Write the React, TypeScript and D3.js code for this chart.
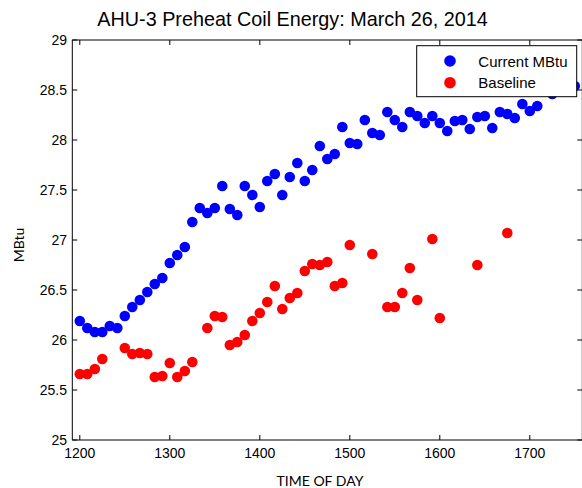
import React from 'react';
import * as d3 from 'd3';

// time of day as decimal hours x 100 (5-minute readings)
const times = [
  1200, 1208.3, 1216.7, 1225, 1233.3, 1241.7, 1250, 1258.3, 1266.7, 1275, 1283.3, 1291.7,
  1300, 1308.3, 1316.7, 1325, 1333.3, 1341.7, 1350, 1358.3, 1366.7, 1375, 1383.3, 1391.7,
  1400, 1408.3, 1416.7, 1425, 1433.3, 1441.7, 1450, 1458.3, 1466.7, 1475, 1483.3, 1491.7,
  1500, 1508.3, 1516.7, 1525, 1533.3, 1541.7, 1550, 1558.3, 1566.7, 1575, 1583.3, 1591.7,
  1600, 1608.3, 1616.7, 1625, 1633.3, 1641.7, 1650, 1658.3, 1666.7, 1675, 1683.3, 1691.7,
  1700, 1708.3, 1716.7, 1725, 1733.3, 1741.7, 1750,
];

const currentMBtu = [
  26.19, 26.12, 26.08, 26.08, 26.14, 26.12, 26.24, 26.33, 26.40, 26.48, 26.56, 26.62,
  26.77, 26.85, 26.93, 27.18, 27.32, 27.27, 27.32, 27.54, 27.31, 27.25, 27.54, 27.45,
  27.33, 27.59, 27.66, 27.45, 27.63, 27.77, 27.59, 27.70, 27.94, 27.81, 27.86, 28.13,
  27.97, 27.96, 28.20, 28.07, 28.05, 28.28, 28.20, 28.13, 28.28, 28.24, 28.17, 28.24,
  28.17, 28.09, 28.19, 28.20, 28.11, 28.23, 28.24, 28.12, 28.28, 28.26, 28.22, 28.36,
  28.29, 28.34, 28.52, 28.46, 28.55, 28.56, 28.54,
];

const baseline: (number | null)[] = [
  25.66, 25.66, 25.71, 25.81, null, null, 25.92, 25.86, 25.87, 25.86, 25.63, 25.64,
  25.77, 25.63, 25.69, 25.78, null, 26.12, 26.24, 26.23, 25.95, 25.98, 26.05, 26.19,
  26.27, 26.38, 26.54, 26.31, 26.42, 26.47, 26.69, 26.76, 26.75, 26.78, 26.54, 26.57,
  26.95, null, null, 26.86, null, 26.33, 26.33, 26.47, 26.72, 26.40, null, 27.01,
  26.22, null, null, null, null, 26.75, null, null, null, 27.07,
];

const xTicks = [1200, 1300, 1400, 1500, 1600, 1700];
const yTicks = [25, 25.5, 26, 26.5, 27, 27.5, 28, 28.5, 29];
const seriesNames = ['Current MBtu', 'Baseline'];
const seriesColors = ['#0000ff', '#ff0000'];

const W = 582;
const H = 488;
const left = 72.3;
const right = 582.3;
const top = 40;
const bottom = 440;
const tickFont = '"Liberation Sans", Arial, sans-serif';
const labelFont = 'Lato, "Open Sans", sans-serif';

export default function App() {
  const x = d3.scaleLinear().domain([1191.67, 1758.33]).range([left, right]);
  const y = d3.scaleLinear().domain([25, 29]).range([bottom, top]);

  const blue = times.map((t, i) => ({ t, v: currentMBtu[i] }));
  const red = baseline
    .map((v, i) => ({ t: times[i], v }))
    .filter(d => d.v !== null) as { t: number; v: number }[];

  const r = 5.3;

  return (
    <svg width={W} height={H} style={{ position: 'absolute', left: 0, top: 0, background: '#fff' }}>
      <rect x={0} y={0} width={W} height={H} fill="#fff" />
      <g>
        {blue.map((d, i) => (
          <circle key={'b' + i} cx={x(d.t)} cy={y(d.v)} r={r} fill={seriesColors[0]} />
        ))}
        {red.map((d, i) => (
          <circle key={'r' + i} cx={x(d.t)} cy={y(d.v)} r={r} fill={seriesColors[1]} />
        ))}
      </g>

      {/* axes box */}
      <line x1={left} x2={left} y1={top} y2={bottom} stroke="#000" strokeWidth={1} />
      <line x1={left} x2={right} y1={bottom} y2={bottom} stroke="#000" strokeWidth={1} />
      <line x1={left} x2={right} y1={top} y2={top} stroke="#000" strokeWidth={1} />
      <line x1={right} x2={right} y1={top} y2={bottom} stroke="#000" strokeWidth={1} />

      {xTicks.map(t => (
        <g key={'xt' + t}>
          <line x1={x(t)} x2={x(t)} y1={bottom} y2={bottom - 5} stroke="#000" />
          <line x1={x(t)} x2={x(t)} y1={top} y2={top + 5} stroke="#000" />
          <text x={x(t)} y={458} textAnchor="middle" fontFamily={tickFont} fontSize={14}>
            {t}
          </text>
        </g>
      ))}
      {yTicks.map(v => (
        <g key={'yt' + v}>
          <line x1={left} x2={left + 5} y1={y(v)} y2={y(v)} stroke="#000" />
          <line x1={right - 5} x2={right} y1={y(v)} y2={y(v)} stroke="#000" />
          <text x={67} y={y(v) + 5} textAnchor="end" fontFamily={tickFont} fontSize={14}>
            {v}
          </text>
        </g>
      ))}

      <text x={292.5} y={26} textAnchor="middle" fontFamily={tickFont} fontSize={19.8}>
        AHU-3 Preheat Coil Energy: March 26, 2014
      </text>
      <text x={320} y={486} textAnchor="middle" fontFamily={labelFont} fontSize={14}>
        TIME OF DAY
      </text>
      <text
        transform={`translate(24,${(top + bottom) / 2 + 5}) rotate(-90)`}
        textAnchor="middle"
        fontFamily={labelFont}
        fontSize={14}
      >
        MBtu
      </text>

      {/* legend */}
      <g>
        <rect x={416.7} y={45.7} width={160} height={51} fill="#fff" stroke="#000" strokeWidth={1} />
        {seriesNames.map((name, i) => (
          <g key={name} transform={`translate(0,${i * 21.7})`}>
            <circle cx={450} cy={61} r={r + 0.5} fill={seriesColors[i]} />
            <text x={478.3} y={66.5} fontFamily={tickFont} fontSize={15}>
              {name}
            </text>
          </g>
        ))}
      </g>
    </svg>
  );
}
